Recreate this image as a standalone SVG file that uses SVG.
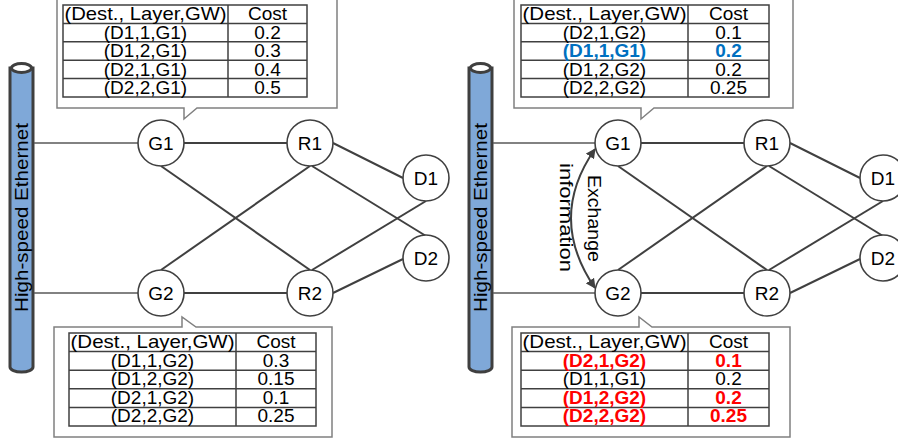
<svg xmlns="http://www.w3.org/2000/svg" width="898" height="445" viewBox="0 0 898 445">
<defs>
<style>
text{font-family:"Liberation Sans",Arial,sans-serif;fill:#000}
.t{font-size:19px;text-anchor:middle}
.n{font-size:19px;text-anchor:middle}
.red{fill:#ff0000;font-weight:bold}
.blue{fill:#0070c0;font-weight:bold}
.edge{stroke:#404040;stroke-width:2;fill:none}
.eth{stroke:#595959;stroke-width:1.5;fill:none}
.node{fill:#fff;stroke:#404040;stroke-width:1.6}
.callout{fill:#fff;stroke:#808080;stroke-width:1.5}
.tbl{fill:none;stroke:#404040;stroke-width:1.5}
.cyl{fill:#7fa8d8;stroke:#3f3f3f;stroke-width:3}
.cyltop{fill:#fff;stroke:#3f3f3f;stroke-width:3}
</style>
<marker id="ah" viewBox="0 0 10 10" refX="9" refY="5" markerWidth="10" markerHeight="10" markerUnits="userSpaceOnUse" orient="auto-start-reverse">
<path d="M0,0 L10,5 L0,10 Z" fill="#404040"/>
</marker>
</defs>

<!-- Ethernet cylinders -->
<g id="ethernet-left">
<path class="cyl" d="M10,68 L10,367 A11.5,5 0 0 0 33,367 L33,68 Z"/>
<ellipse class="cyltop" cx="21.5" cy="68" rx="10" ry="4.5"/>
<text transform="translate(28,217.5) rotate(-90)" font-size="19" text-anchor="middle" textLength="189" lengthAdjust="spacingAndGlyphs">High-speed Ethernet</text>
</g>
<g id="ethernet-right">
<path class="cyl" d="M469,68 L469,367 A11.5,5 0 0 0 492,367 L492,68 Z"/>
<ellipse class="cyltop" cx="480.5" cy="68" rx="10" ry="4.5"/>
<text transform="translate(487,217.5) rotate(-90)" font-size="19" text-anchor="middle" textLength="189" lengthAdjust="spacingAndGlyphs">High-speed Ethernet</text>
</g>

<!-- Connectors -->
<g id="connectors">
<line class="eth" x1="34" y1="143" x2="138" y2="143"/>
<line class="eth" x1="34" y1="293" x2="138" y2="293"/>
<line class="edge" x1="184" y1="143" x2="287" y2="143"/>
<line class="edge" x1="161" y1="166" x2="310" y2="270"/>
<line class="edge" x1="161" y1="270" x2="310" y2="166"/>
<line class="edge" x1="184" y1="293" x2="287" y2="293"/>
<line class="edge" x1="333" y1="143" x2="403" y2="178"/>
<line class="edge" x1="312" y1="166" x2="426" y2="236"/>
<line class="edge" x1="312" y1="270" x2="426" y2="201"/>
<line class="edge" x1="333" y1="293" x2="403" y2="259"/>

<line class="eth" x1="493" y1="143" x2="595" y2="143"/>
<line class="eth" x1="493" y1="293" x2="595" y2="293"/>
<line class="edge" x1="641" y1="143" x2="744" y2="143"/>
<line class="edge" x1="618" y1="166" x2="767" y2="270"/>
<line class="edge" x1="618" y1="270" x2="767" y2="166"/>
<line class="edge" x1="641" y1="293" x2="744" y2="293"/>
<line class="edge" x1="790" y1="143" x2="860" y2="178"/>
<line class="edge" x1="769" y1="166" x2="883" y2="236"/>
<line class="edge" x1="769" y1="270" x2="883" y2="201"/>
<line class="edge" x1="790" y1="293" x2="860" y2="259"/>

<path class="edge" d="M595,149 Q547,218 595,288" marker-start="url(#ah)" marker-end="url(#ah)"/>
<text transform="translate(588,218.5) rotate(90)" font-size="19" text-anchor="middle" textLength="87" lengthAdjust="spacingAndGlyphs">Exchange</text>
<text transform="translate(560,217.5) rotate(90)" font-size="19" text-anchor="middle" textLength="109" lengthAdjust="spacingAndGlyphs">information</text>
</g>

<!-- Left panel nodes -->
<g id="G1-left"><circle class="node" cx="161" cy="143" r="23"/><text class="n" x="161" y="150">G1</text></g>
<g id="R1-left"><circle class="node" cx="310" cy="143" r="23"/><text class="n" x="310" y="150">R1</text></g>
<g id="G2-left"><circle class="node" cx="161" cy="293" r="23"/><text class="n" x="161" y="300">G2</text></g>
<g id="R2-left"><circle class="node" cx="310" cy="293" r="23"/><text class="n" x="310" y="300">R2</text></g>
<g id="D1-left"><circle class="node" cx="426" cy="178" r="23"/><text class="n" x="426" y="185">D1</text></g>
<g id="D2-left"><circle class="node" cx="426" cy="258" r="23"/><text class="n" x="426" y="265">D2</text></g>

<!-- Right panel nodes -->
<g id="G1-right"><circle class="node" cx="618" cy="143" r="23"/><text class="n" x="618" y="150">G1</text></g>
<g id="R1-right"><circle class="node" cx="767" cy="143" r="23"/><text class="n" x="767" y="150">R1</text></g>
<g id="G2-right"><circle class="node" cx="618" cy="293" r="23"/><text class="n" x="618" y="300">G2</text></g>
<g id="R2-right"><circle class="node" cx="767" cy="293" r="23"/><text class="n" x="767" y="300">R2</text></g>
<g id="D1-right"><circle class="node" cx="883" cy="178" r="23"/><text class="n" x="883" y="185">D1</text></g>
<g id="D2-right"><circle class="node" cx="883" cy="258" r="23"/><text class="n" x="883" y="265">D2</text></g>

<!-- Callout: top-left (G1 table) -->
<g id="table-G1-left">
<path class="callout" d="M57,-5 L57,108 L184,108 L184,119 L197,108 L337,108 L337,-5 Z"/>
<rect class="tbl" x="63" y="5" width="244" height="92"/>
<path class="tbl" d="M228,5 V97 M63,23.4 H307 M63,41.8 H307 M63,60.2 H307 M63,78.6 H307"/>
<text class="t" x="145.5" y="20" textLength="162" lengthAdjust="spacingAndGlyphs">(Dest., Layer,GW)</text>
<text class="t" x="267.5" y="20">Cost</text>
<text class="t" x="145.5" y="38.5">(D1,1,G1)</text><text class="t" x="267.5" y="38.5">0.2</text>
<text class="t" x="145.5" y="57">(D1,2,G1)</text><text class="t" x="267.5" y="57">0.3</text>
<text class="t" x="145.5" y="75.5">(D2,1,G1)</text><text class="t" x="267.5" y="75.5">0.4</text>
<text class="t" x="145.5" y="94">(D2,2,G1)</text><text class="t" x="267.5" y="94">0.5</text>
</g>

<!-- Callout: bottom-left (G2 table) -->
<g id="table-G2-left">
<path class="callout" d="M54,437 L54,327 L182,327 L182,317 L196,327 L332,327 L332,437 Z"/>
<rect class="tbl" x="69" y="333" width="247" height="93"/>
<path class="tbl" d="M236,333 V426 M69,351.6 H316 M69,370.2 H316 M69,388.8 H316 M69,407.4 H316"/>
<text class="t" x="152.5" y="348" textLength="164" lengthAdjust="spacingAndGlyphs">(Dest., Layer,GW)</text>
<text class="t" x="276" y="348">Cost</text>
<text class="t" x="152.5" y="366.5">(D1,1,G2)</text><text class="t" x="276" y="366.5">0.3</text>
<text class="t" x="152.5" y="385">(D1,2,G2)</text><text class="t" x="276" y="385">0.15</text>
<text class="t" x="152.5" y="403.5">(D2,1,G2)</text><text class="t" x="276" y="403.5">0.1</text>
<text class="t" x="152.5" y="422">(D2,2,G2)</text><text class="t" x="276" y="422">0.25</text>
</g>

<!-- Callout: top-right (G1 table) -->
<g id="table-G1-right">
<path class="callout" d="M514,-5 L514,108 L641,108 L641,119 L654,108 L793,108 L793,-5 Z"/>
<rect class="tbl" x="521" y="5" width="248" height="92"/>
<path class="tbl" d="M688,5 V97 M521,23.4 H769 M521,41.8 H769 M521,60.2 H769 M521,78.6 H769"/>
<text class="t" x="604.5" y="20" textLength="164" lengthAdjust="spacingAndGlyphs">(Dest., Layer,GW)</text>
<text class="t" x="728.5" y="20">Cost</text>
<text class="t" x="604.5" y="38.5">(D2,1,G2)</text><text class="t" x="728.5" y="38.5">0.1</text>
<text class="t blue" x="604.5" y="57">(D1,1,G1)</text><text class="t blue" x="728.5" y="57">0.2</text>
<text class="t" x="604.5" y="75.5">(D1,2,G2)</text><text class="t" x="728.5" y="75.5">0.2</text>
<text class="t" x="604.5" y="94">(D2,2,G2)</text><text class="t" x="728.5" y="94">0.25</text>
</g>

<!-- Callout: bottom-right (G2 table) -->
<g id="table-G2-right">
<path class="callout" d="M512,437 L512,327 L639,327 L639,317 L652,327 L790,327 L790,437 Z"/>
<rect class="tbl" x="521" y="333" width="248" height="93"/>
<path class="tbl" d="M688,333 V426 M521,351.6 H769 M521,370.2 H769 M521,388.8 H769 M521,407.4 H769"/>
<text class="t" x="604.5" y="348" textLength="164" lengthAdjust="spacingAndGlyphs">(Dest., Layer,GW)</text>
<text class="t" x="728.5" y="348">Cost</text>
<text class="t red" x="604.5" y="366.5">(D2,1,G2)</text><text class="t red" x="728.5" y="366.5">0.1</text>
<text class="t" x="604.5" y="385">(D1,1,G1)</text><text class="t" x="728.5" y="385">0.2</text>
<text class="t red" x="604.5" y="403.5">(D1,2,G2)</text><text class="t red" x="728.5" y="403.5">0.2</text>
<text class="t red" x="604.5" y="422">(D2,2,G2)</text><text class="t red" x="728.5" y="422">0.25</text>
</g>
</svg>
